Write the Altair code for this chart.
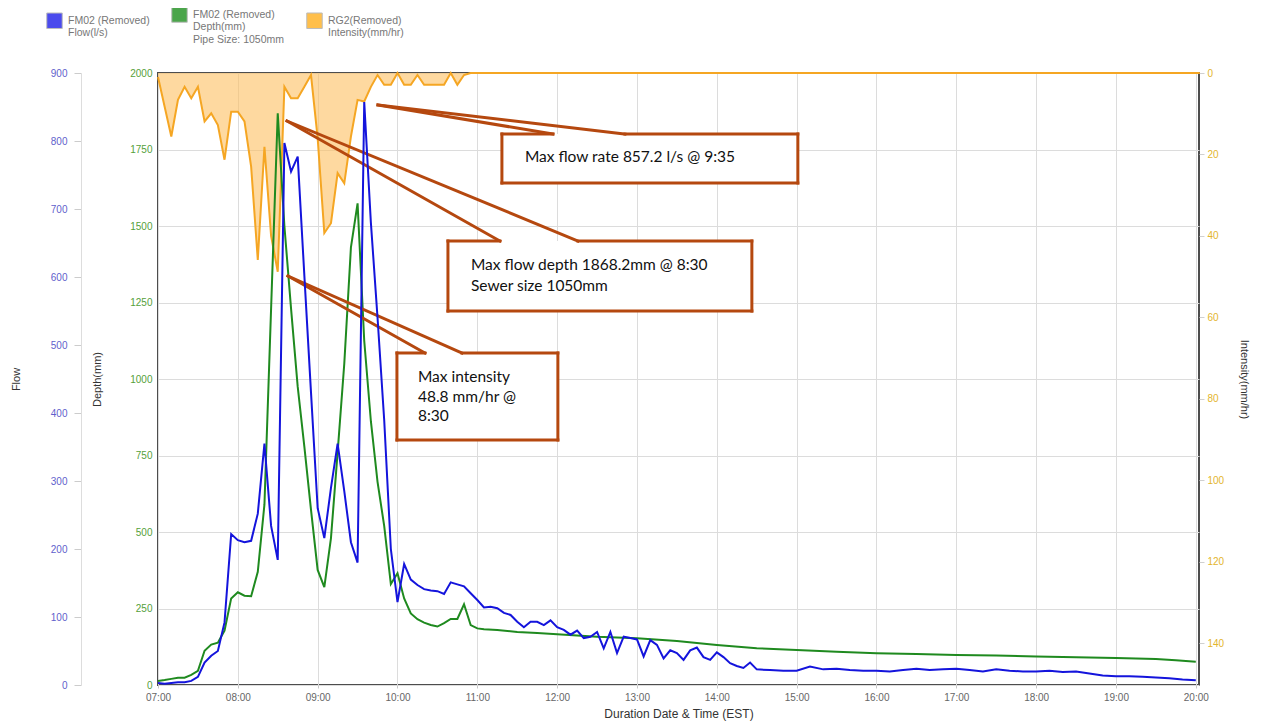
import altair as alt
import pandas as pd

# ---------------- data ----------------
flow_times = ["07:00","07:05","07:10","07:15","07:20","07:25","07:30","07:35","07:40","07:45",
              "07:50","07:55","08:00","08:05","08:10","08:15","08:20","08:25","08:30","08:35",
              "08:40","08:45","08:50","08:55","09:00","09:05","09:10","09:15","09:20","09:25",
              "09:30","09:35","09:40","09:45","09:50","09:55","10:00","10:05","10:10","10:15",
              "10:20","10:25","10:30","10:35","10:40","10:45","10:50","10:55","11:00","11:05",
              "11:10","11:15","11:20","11:25","11:30","11:35","11:40","11:45","11:50","11:55",
              "12:00","12:05","12:10","12:15","12:20","12:25","12:30","12:35","12:40","12:45",
              "12:50","12:55","13:00","13:05","13:10","13:15","13:20","13:25","13:30","13:35",
              "13:40","13:45","13:50","13:55","14:00","14:05","14:10","14:15","14:20","14:25",
              "14:30","14:40","14:50","15:00","15:10","15:20","15:30","15:40","15:50","16:00",
              "16:10","16:20","16:30","16:40","16:50","17:00","17:10","17:20","17:30","17:40",
              "17:50","18:00","18:10","18:20","18:30","18:40","18:50","19:00","19:10","19:20",
              "19:30","19:40","19:50","20:00"]
flow_vals = [3, 2, 3, 4, 4, 6, 12, 33, 43, 50,
             92, 222, 213, 210, 212, 252, 355, 234, 184, 797,
             755, 777, 602, 430, 260, 216, 290, 355, 285, 210,
             180, 857.2, 680, 540, 390, 200, 122, 178, 155, 147,
             141, 139, 138, 134, 151, 148, 145, 135, 125, 114,
             115, 113, 106, 103, 93, 85, 93, 93, 88, 95,
             85, 81, 74, 80, 69, 71, 78, 54, 78, 47,
             71, 69, 67, 42, 66, 59, 39, 51, 47, 37,
             51, 55, 41, 37, 48, 41, 32, 28, 25, 33,
             23, 22, 21, 21, 27, 23, 24, 22, 21, 21,
             20, 22, 24, 22, 23, 24, 22, 20, 23, 21,
             20, 20, 21, 19, 20, 17, 14, 13, 13, 12,
             11, 10, 8, 7]

depth_times = ["07:00","07:05","07:10","07:15","07:20","07:25","07:30","07:35","07:40","07:45",
               "07:50","07:55","08:00","08:05","08:10","08:15","08:20","08:25","08:30","08:35",
               "08:40","08:45","08:50","08:55","09:00","09:05","09:10","09:15","09:20","09:25",
               "09:30","09:35","09:40","09:45","09:50","09:55","10:00","10:05","10:10","10:15",
               "10:20","10:25","10:30","10:35","10:40","10:45","10:50","10:55","11:00","11:05",
               "11:15","11:30","11:45","12:00","12:30","13:00","13:30","14:00","14:30","15:00",
               "15:30","16:00","16:30","17:00","17:30","18:00","18:30","19:00","19:30","19:45",
               "20:00"]
depth_vals = [13, 16, 20, 24, 24, 33, 46, 112, 132, 138,
              178, 283, 303, 292, 290, 370, 590, 1230, 1868.2, 1500,
              1230, 975, 779, 572, 376, 320, 480, 760, 1050, 1430,
              1574, 1125, 862, 664, 520, 330, 365, 283, 234, 215,
              204, 196, 191, 202, 216, 216, 264, 196, 185, 182,
              180, 173, 170, 166, 158, 153, 144, 131, 120, 114,
              109, 104, 101, 98, 96, 93, 91, 88, 85, 81,
              76]

int_times = ["07:00","07:05","07:10","07:15","07:20","07:25","07:30","07:35","07:40","07:45",
             "07:50","07:55","08:00","08:05","08:10","08:15","08:20","08:25","08:30","08:35",
             "08:40","08:45","08:50","08:55","09:00","09:05","09:10","09:15","09:20","09:25",
             "09:30","09:35","09:40","09:45","09:50","09:55","10:00","10:05","10:10","10:15",
             "10:20","10:25","10:30","10:35","10:40","10:45","10:50","10:55","20:03"]
int_vals = [1.0, 8.3, 15.6, 6.6, 3.4, 6.2, 3.4, 11.9, 9.9, 12.8,
            21.3, 9.5, 9.5, 11.9, 23.0, 45.9, 18.1, 40.0, 48.8, 3.4,
            6.2, 6.2, 3.4, 0.5, 16.0, 39.3, 36.9, 24.6, 27.1, 15.6,
            6.6, 7.0, 3.4, 0.5, 2.9, 2.9, 0.0, 2.9, 2.9, 0.5,
            2.9, 2.9, 2.9, 2.9, 0.0, 2.9, 0.5, 0.0, 0.0]

series_names = ["FM02 (Removed)|Flow(l/s)",
                "FM02 (Removed)|Depth(mm)|Pipe Size: 1050mm",
                "RG2(Removed)|Intensity(mm/hr)"]
series_colors = ["#0000e6", "#008000", "#ffa500"]

x_ticks = list(range(7, 21))
flow_ticks = list(range(0, 901, 100))
depth_ticks = list(range(0, 2001, 250))
int_ticks = list(range(0, 141, 20))

# callout boxes (x in hours, y in depth mm)
box_x1 = [11.308, 10.632, 9.993]
box_x2 = [15.015, 14.439, 12.009]
box_top = [1800.7, 1451.0, 1085.0]
box_bottom = [1640.5, 1222.0, 800.7]
tail_tip_x = [9.755, 8.616, 8.628]
tail_tip_y = [1895.4, 1843.0, 1336.6]
tail_base_a = [11.947, 11.283, 10.344]
tail_base_b = [12.849, 12.260, 10.807]
note_text = [["Max flow rate 857.2 l/s @ 9:35"],
             ["Max flow depth 1868.2mm @ 8:30", "Sewer size 1050mm"],
             ["Max intensity", "48.8 mm/hr @", "8:30"]]
note_x = [11.596, 10.92, 10.256]
note_y = [[1725.5], [1372.5, 1304.0], [1006.5, 941.0, 879.0]]


def to_h(t):
    hh, mm = t.split(":")
    return int(hh) + int(mm) / 60.0


df_flow = pd.DataFrame({"h": [to_h(t) for t in flow_times], "v": flow_vals})
df_depth = pd.DataFrame({"h": [to_h(t) for t in depth_times], "v": depth_vals})
df_int = pd.DataFrame({"h": [to_h(t) for t in int_times], "v": int_vals})

boxes = pd.DataFrame({"h": box_x1, "x2": box_x2, "v": box_top, "y2": box_bottom})
segs = []
for i in range(len(box_x1)):
    x1, x2, yt, yb = box_x1[i], box_x2[i], box_top[i], box_bottom[i]
    a, b = tail_base_a[i], tail_base_b[i]
    segs += [
        (x1, yt, x1, yb), (x2, yt, x2, yb), (x1, yb, x2, yb),
        (x1, yt, a, yt), (b, yt, x2, yt),
        (tail_tip_x[i], tail_tip_y[i], a, yt), (tail_tip_x[i], tail_tip_y[i], b, yt),
    ]
df_segs = pd.DataFrame(segs, columns=["h", "v", "xb", "yb"])
txt_rows = []
for i, lines in enumerate(note_text):
    for j, s in enumerate(lines):
        txt_rows.append({"h": note_x[i], "v": note_y[i][j], "t": s})
df_txt = pd.DataFrame(txt_rows)
df_leg = pd.DataFrame({"s": series_names, "h": [0, 0, 0], "v": [1, 1, 1]})

# ---------------- chart ----------------
FONT = "Liberation Sans"
xs = alt.Scale(domain=[7, 20.04], nice=False, zero=False)
x_axis = alt.Axis(values=x_ticks,
                  labelExpr="(datum.value < 10 ? '0' : '') + datum.value + ':00'",
                  title="Duration Date & Time (EST)", grid=True, gridColor="#dcdcdc",
                  domain=False, tickColor="#c8c8c8", tickSize=3, labelColor="#666666",
                  labelFontSize=10, titleFontSize=12, titleColor="#333333",
                  titleFontWeight="normal", labelPadding=4, titlePadding=6,
                  labelFlush=False, labelFont=FONT, titleFont=FONT)
X = alt.X("h:Q", scale=xs, axis=x_axis, title="Duration Date & Time (EST)")

int_scale = alt.Scale(domain=[0, 150.3], reverse=True, nice=False, zero=False)
int_axis = alt.Axis(orient="right", values=int_ticks, title="Intensity(mm/hr)", titleAngle=90,
                    grid=False, domain=False, tickColor="#d0d0d0", tickSize=5,
                    labelColor="#e3b52c", labelFontSize=10, labelPadding=3,
                    titleColor="#333333", titleFontSize=11, titleFontWeight="normal",
                    titlePadding=15, labelFlush=False, labelFont=FONT, titleFont=FONT)
Y_int = alt.Y("v:Q", scale=int_scale, axis=int_axis, title="Intensity(mm/hr)")

depth_scale = alt.Scale(domain=[0, 2000], nice=False, zero=False)
depth_axis = alt.Axis(orient="left", values=depth_ticks, format="d", title="Depth(mm)",
                      grid=True, gridColor="#dcdcdc", domain=False, ticks=False, labelPadding=6,
                      labelColor="#55a03a", labelFontSize=10, titleColor="#333333",
                      titleFontSize=11, titleFontWeight="normal", titlePadding=27,
                      labelFlush=False, labelFont=FONT, titleFont=FONT)
Y_depth = alt.Y("v:Q", scale=depth_scale, axis=depth_axis, title="Depth(mm)")

flow_scale = alt.Scale(domain=[0, 900], nice=False, zero=False)
flow_axis = alt.Axis(orient="left", offset=77, values=flow_ticks, title="Flow", grid=False,
                     domain=True, domainColor="#dddddd", tickColor="#cccccc", tickSize=7,
                     labelPadding=7, labelColor="#5f5fcc", labelFontSize=10,
                     titleColor="#333333", titleFontSize=11, titleFontWeight="normal",
                     titlePadding=29, labelFlush=False, labelFont=FONT, titleFont=FONT)

int_area = alt.Chart(df_int).mark_area(color="#fdbf60", opacity=0.6).encode(x=X, y=Y_int)
int_line = alt.Chart(df_int).mark_line(color="#f5a623", strokeWidth=2).encode(x=X, y=Y_int)
int_layer = alt.layer(int_area, int_line)

depth_line = alt.Chart(df_depth).mark_line(color="#1f8a1f", strokeWidth=2).encode(x=X, y=Y_depth)
box_fill = alt.Chart(boxes).mark_rect(color="white").encode(
    x=X, x2="x2:Q", y=Y_depth, y2="y2:Q")
box_edges = alt.Chart(df_segs).mark_rule(color="#b5480f", strokeWidth=3, strokeCap="square").encode(
    x=X, x2="xb:Q", y=Y_depth, y2="yb:Q")
notes = alt.Chart(df_txt).mark_text(align="left", baseline="middle", font="Lato",
                                    fontSize=15.5, color="#111111").encode(
    x=X, y=Y_depth, text="t:N")
depth_layer = alt.layer(depth_line, box_fill, box_edges, notes)

flow_line = alt.Chart(df_flow).mark_line(color="#1414dc", strokeWidth=2).encode(
    x=X, y=alt.Y("v:Q", scale=flow_scale, axis=flow_axis, title="Flow"))

legend_layer = alt.Chart(df_leg).mark_square(filled=True, clip=True, size=10).encode(
    x=X,
    y=alt.Y("v:Q", axis=None),
    color=alt.Color("s:N",
                    scale=alt.Scale(domain=series_names, range=series_colors),
                    legend=alt.Legend(orient="none", legendX=-112, legendY=-67,
                                      direction="horizontal", title=None,
                                      symbolType="square", symbolSize=240,
                                      symbolStrokeColor="#a0a0a0", symbolStrokeWidth=1,
                                      labelExpr="split(datum.label, '|')",
                                      labelFontSize=10.5, labelColor="#777777",
                                      labelFont=FONT, labelLimit=300, columnPadding=19,
                                      labelOffset=5, labelBaseline="middle")))

chart = alt.layer(int_layer, depth_layer, flow_line, legend_layer).resolve_scale(
    y="independent"
).properties(
    width=1041, height=612,
    padding={"left": 150, "top": 65, "right": 58, "bottom": 37},
    autosize=alt.AutoSizeParams(type="none"),
).configure_view(stroke="#4d4d4d", strokeWidth=2)

chart.save("out.html", embed_options={"renderer": "svg", "actions": False})
